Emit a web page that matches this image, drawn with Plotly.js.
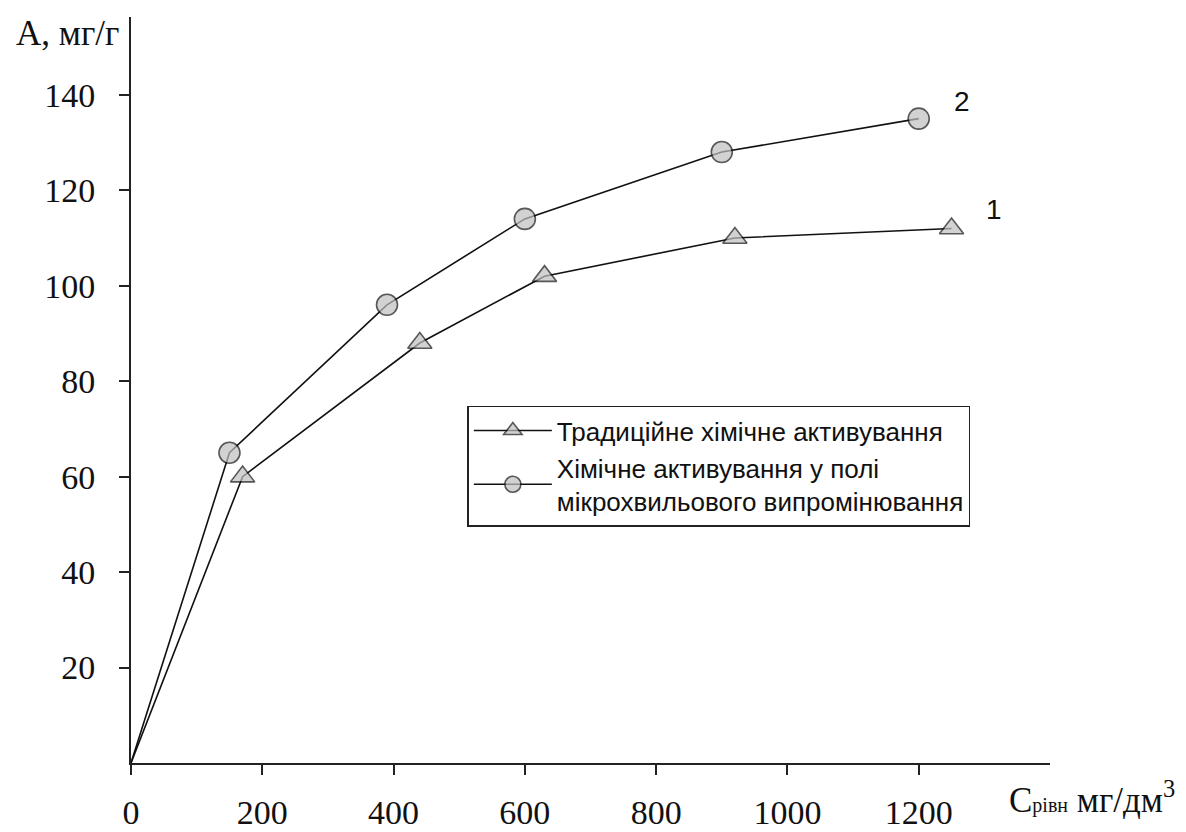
<!DOCTYPE html>
<html>
<head>
<meta charset="utf-8">
<script src="https://cdn.plot.ly/plotly-3.0.1.min.js"></script>
<style>
  html, body { margin: 0; padding: 0; background: #fff; }
  #chart { width: 1186px; height: 832px; }
</style>
</head>
<body>
<div id="chart"></div>
<script>
// Equilibrium concentration, mg/dm3
const concTraditional = [0, 170, 440, 630, 920, 1250];
const concMicrowave   = [0, 150, 390, 600, 900, 1200];
// Adsorption capacity A, mg/g
const adsTraditional = [0, 60, 88, 102, 110, 112];
const adsMicrowave   = [0, 65, 96, 114, 128, 135];

const seriesNames = [
  'Традиційне хімічне активування',
  'Хімічне активування у полі<br>мікрохвильового випромінювання'
];
const curveLabels = ['1', '2'];

const xTicks = [0, 200, 400, 600, 800, 1000, 1200];
const yTicks = [20, 40, 60, 80, 100, 120, 140];

const serif = 'Liberation Serif, Times New Roman, serif';
const sans = 'Liberation Sans, Arial, sans-serif';

// no marker at the origin point of each curve
function markerSizes(arr, s) { return arr.map((_, i) => i === 0 ? 0 : s); }

const traces = [
  {
    x: concTraditional, y: adsTraditional, name: seriesNames[0],
    type: 'scatter', mode: 'lines+markers',
    line: { color: '#111', width: 1.6 },
    marker: { symbol: 'triangle-up', size: markerSizes(concTraditional, 21), color: '#c0c0c0',
              line: { color: '#111', width: 1.6 } }
  },
  {
    x: concMicrowave, y: adsMicrowave, name: seriesNames[1],
    type: 'scatter', mode: 'lines+markers',
    line: { color: '#111', width: 1.6 },
    marker: { symbol: 'circle', size: markerSizes(concMicrowave, 21), color: '#c0c0c0',
              line: { color: '#111', width: 1.6 } }
  }
];

const layout = {
  width: 1186, height: 832,
  margin: { l: 131, r: 136, t: 17, b: 69 },
  paper_bgcolor: '#fff', plot_bgcolor: '#fff',
  showlegend: true,
  legend: {
    x: 0.366, y: 0.479, xanchor: 'left', yanchor: 'top',
    bgcolor: '#fff', bordercolor: '#222', borderwidth: 1.5,
    font: { family: sans, size: 26, color: '#111' },
    itemwidth: 78, tracegroupgap: 6
  },
  xaxis: {
    range: [0, 1400], showgrid: false, zeroline: false,
    showline: true, linecolor: '#222', linewidth: 2,
    ticks: 'outside', ticklen: 10, tickwidth: 2, tickcolor: '#222',
    tickvals: xTicks, ticktext: xTicks.map(String),
    ticklabelstandoff: 8,
    tickfont: { family: serif, size: 34, color: '#111' }
  },
  yaxis: {
    range: [0, 156.3], showgrid: false, zeroline: false,
    showline: true, linecolor: '#222', linewidth: 2,
    ticks: 'outside', ticklen: 10, tickwidth: 2, tickcolor: '#222',
    tickvals: yTicks, ticktext: yTicks.map(String),
    ticklabelstandoff: 17,
    tickfont: { family: serif, size: 34, color: '#111' }
  },
  annotations: [
    {
      text: 'A, мг/г', xref: 'paper', yref: 'paper', x: 0, y: 1,
      xanchor: 'right', yanchor: 'middle', xshift: -10, yshift: -16,
      showarrow: false, font: { family: serif, size: 35, color: '#111' }
    },
    {
      text: 'C<span style="font-size:20px">рівн</span> мг/дм<sup>3</sup>',
      xref: 'paper', yref: 'paper', x: 1, y: 0,
      xanchor: 'left', yanchor: 'middle', xshift: -43, yshift: -34,
      showarrow: false, font: { family: serif, size: 35, color: '#111' }
    },
    {
      text: curveLabels[1], xref: 'x', yref: 'y', x: 1266, y: 138.5,
      showarrow: false, font: { family: sans, size: 28, color: '#111' }
    },
    {
      text: curveLabels[0], xref: 'x', yref: 'y', x: 1315, y: 116,
      showarrow: false, font: { family: sans, size: 28, color: '#111' }
    }
  ]
};

Plotly.newPlot('chart', traces, layout, { displayModeBar: false, staticPlot: true });
</script>
</body>
</html>
